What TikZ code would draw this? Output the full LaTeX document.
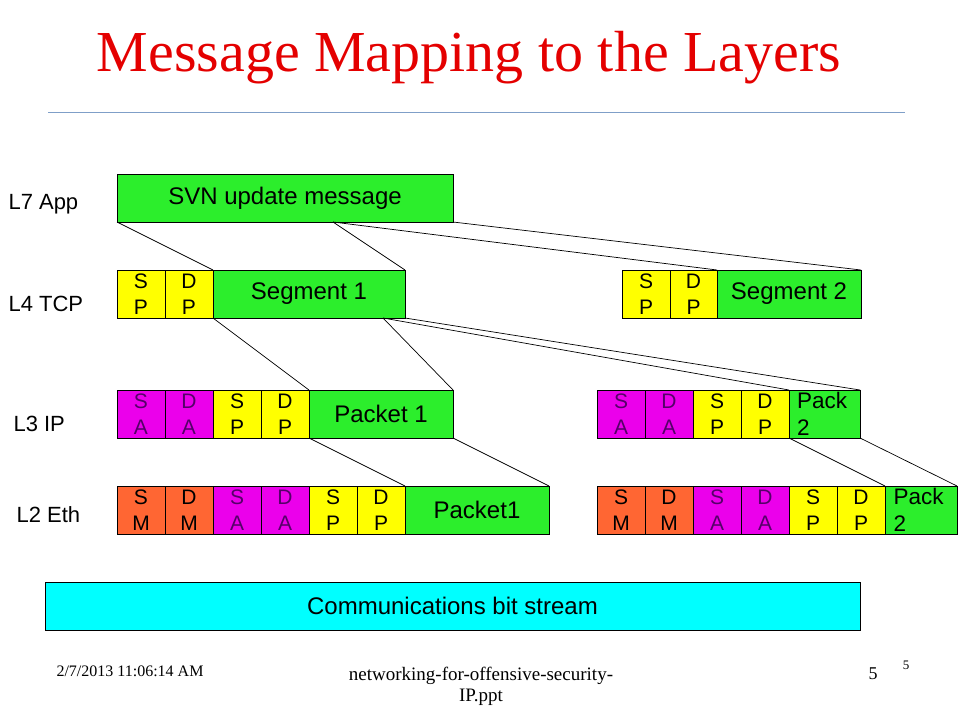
\documentclass[tikz,border=0pt]{standalone}
\usepackage{fontspec}
\setmainfont{Liberation Sans}
\newfontfamily\timesfont{Liberation Serif}
\usetikzlibrary{positioning}
\definecolor{pktgreen}{RGB}{44,238,44}
\definecolor{hdryellow}{RGB}{255,255,0}
\definecolor{ipmagenta}{RGB}{235,0,235}
\definecolor{ipviolet}{RGB}{85,0,105}
\definecolor{macorange}{RGB}{255,102,51}
\definecolor{bitcyan}{RGB}{0,255,255}
\definecolor{titlered}{RGB}{228,0,0}
\definecolor{rulecolor}{RGB}{127,159,200}
\tikzset{%
    feld/.style    = {rectangle, draw=black, line width=0.8pt, minimum height=48pt,
                      inner sep=0pt, outer sep=0pt, align=center},
    nutz/.style    = {feld, fill=pktgreen, font=\fontsize{24}{28}\selectfont},
    kopf/.style    = {feld, minimum width=48pt, font=\fontsize{21}{26}\selectfont},
    port/.style    = {kopf, fill=hdryellow},
    addr/.style    = {kopf, fill=ipmagenta, text=ipviolet},
    mac/.style     = {kopf, fill=macorange},
    rest/.style    = {feld, fill=pktgreen, font=\fontsize{22.5}{27}\selectfont,
                      text width=55pt, align=left},
    ebene/.style   = {anchor=west, font=\fontsize{22}{24}\selectfont},
    verb/.style    = {line width=0.7pt},
}
\begin{document}
\begin{tikzpicture}[x=1pt, y=-1pt]
    \useasboundingbox (0,0) rectangle (960,720);

    \node (titel) [text=titlered, font=\timesfont\fontsize{58}{60}\selectfont] at (469,58) {Message Mapping to the Layers};
    \coordinate (ruleL) at (48,112);
    \coordinate (ruleR) at (905,112);
    \draw[rulecolor, line width=0.8pt] (ruleL) -- (ruleR);

    % Ebenen
    \node (l7) [ebene] at (5,204) {L7 App};
    \node (l4) [ebene] at (5,304) {L4 TCP};
    \node (l3) [ebene] at (10,424) {L3 IP};
    \node (l2) [ebene] at (13,515) {L2 Eth};

    % L7
    \node (svn) [nutz, anchor=north west, minimum width=336pt] at (117,174) {SVN update message};

    % L4
    \node (sp4a) [port, anchor=north west] at (117,270) {S\\P};
    \node (dp4a) [port, right=0pt of sp4a] {D\\P};
    \node (seg1) [nutz, right=0pt of dp4a, minimum width=192pt] {Segment 1};
    \node (sp4b) [port, anchor=north west] at (622,270) {S\\P};
    \node (dp4b) [port, right=0pt of sp4b, minimum width=47pt] {D\\P};
    \node (seg2) [nutz, right=0pt of dp4b, minimum width=144pt] {Segment 2};

    % L3
    \node (sa3a) [addr, anchor=north west] at (117,390) {S\\A};
    \node (da3a) [addr, right=0pt of sa3a] {D\\A};
    \node (sp3a) [port, right=0pt of da3a] {S\\P};
    \node (dp3a) [port, right=0pt of sp3a] {D\\P};
    \node (pkt1) [nutz, right=0pt of dp3a, minimum width=144pt] {Packet 1};
    \node (sa3b) [addr, anchor=north west] at (597,390) {S\\A};
    \node (da3b) [addr, right=0pt of sa3b] {D\\A};
    \node (sp3b) [port, right=0pt of da3b] {S\\P};
    \node (dp3b) [port, right=0pt of sp3b] {D\\P};
    \node (pkt2) [rest, right=0pt of dp3b, minimum width=71pt] {Pack\\2};

    % L2
    \node (sm2a) [mac, anchor=north west] at (117,486) {S\\M};
    \node (dm2a) [mac, right=0pt of sm2a] {D\\M};
    \node (sa2a) [addr, right=0pt of dm2a] {S\\A};
    \node (da2a) [addr, right=0pt of sa2a] {D\\A};
    \node (sp2a) [port, right=0pt of da2a] {S\\P};
    \node (dp2a) [port, right=0pt of sp2a] {D\\P};
    \node (frm1) [nutz, right=0pt of dp2a, minimum width=144pt] {Packet1};
    \node (sm2b) [mac, anchor=north west] at (597,486) {S\\M};
    \node (dm2b) [mac, right=0pt of sm2b] {D\\M};
    \node (sa2b) [addr, right=0pt of dm2b] {S\\A};
    \node (da2b) [addr, right=0pt of sa2b] {D\\A};
    \node (sp2b) [port, right=0pt of da2b] {S\\P};
    \node (dp2b) [port, right=0pt of sp2b] {D\\P};
    \node (frm2) [rest, right=0pt of dp2b, minimum width=72pt] {Pack\\2};

    % L1
    \node (bits) [nutz, fill=bitcyan, anchor=north west, minimum width=815pt] at (45,582) {Communications bit stream};

    % Zuordnung
    \coordinate (msgcut) at (333,222);
    \coordinate (segcut) at (383,318);
    \draw[verb] (svn.south west) -- (seg1.north west);
    \draw[verb] (msgcut) -- (seg1.north east);
    \draw[verb] (msgcut) -- (seg2.north west);
    \draw[verb] (svn.south east) -- (seg2.north east);
    \draw[verb] (seg1.south west) -- (pkt1.north west);
    \draw[verb] (segcut) -- (pkt1.north east);
    \draw[verb] (segcut) -- (pkt2.north west);
    \draw[verb] (seg1.south east) -- (pkt2.north east);
    \draw[verb] (pkt1.south west) -- (frm1.north west);
    \draw[verb] (pkt1.south east) -- (frm1.north east);
    \draw[verb] (pkt2.south west) -- (frm2.north west);
    \draw[verb] (pkt2.south east) -- (frm2.north east);

    % Fusszeile
    \node (datum) [anchor=west, font=\timesfont\fontsize{16}{18}\selectfont] at (53,671) {2/7/2013 11:06:14 AM};
    \node (datei) [align=center, font=\timesfont\fontsize{19}{21}\selectfont] at (481,686) {networking-for-offensive-security-\\IP.ppt};
    \node (seite) [font=\timesfont\fontsize{18}{18}\selectfont] at (873,674) {5};
    \node (nummer) [font=\timesfont\fontsize{13}{14}\selectfont] at (906,665) {5};
\end{tikzpicture}
\end{document}
